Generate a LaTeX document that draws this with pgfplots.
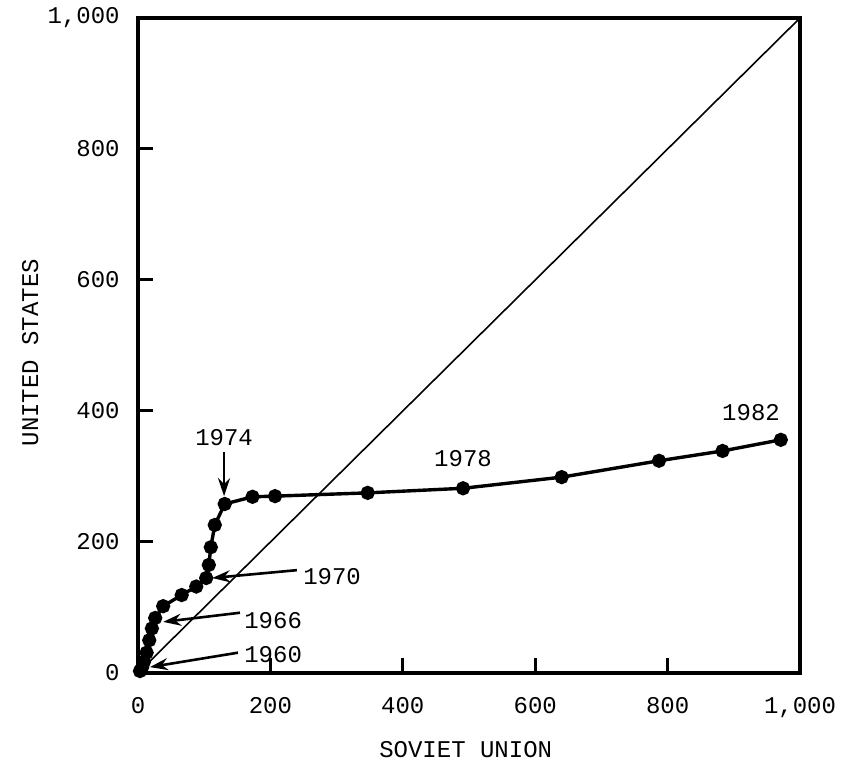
\documentclass[border=0pt]{standalone}
\usepackage{pgfplots}
\pgfplotsset{compat=1.18}
\usepackage{fontspec}
\setmainfont{Liberation Mono}
\usetikzlibrary{arrows.meta}

% US vs Soviet values, one point per year 1960-1982
\pgfplotstableread{
x y
3 3
6 8
9 17
13 31
17 50
21 68
26 84
38 102
66 119
88 132
103 145
107 165
110 192
116 226
131 258
173 269
207 270
347 275
491 282
640 299
787 324
883 339
971 356
}\curve

\begin{document}
\fontsize{12}{14}\selectfont
\begin{tikzpicture}
  \path[use as bounding box] (-69pt,-45pt) rectangle (353.5pt,336.5pt);
  \begin{axis}[
    at={(0,0)}, anchor=south west,
    width=331pt, height=327.5pt, scale only axis,
    xmin=0, xmax=1000, ymin=0, ymax=1000,
    xtick={0,200,400,600,800,1000},
    ytick={0,200,400,600,800,1000},
    xticklabels={0,200,400,600,800,{1,000}},
    yticklabels={0,200,400,600,800,{1,000}},
    tick align=inside, xtick pos=bottom, ytick pos=left,
    major tick length=7.5pt,
    every tick/.style={black, line width=1.5pt},
    axis line style={line width=2pt},
    yticklabel style={xshift=-5pt},
    xticklabel style={yshift=-8pt},
    xlabel={SOVIET UNION},
    ylabel={UNITED STATES},
    xlabel style={at={(axis description cs:0.495,0)}, anchor=center, yshift=-38.5pt},
    ylabel style={at={(axis description cs:-0.163,0.489)}, anchor=center},
    clip=false,
  ]
  \addplot[black, line width=0.8pt] coordinates {(0,0) (1000,1000)};
  \addplot[black, line width=1.7pt, mark=*, mark size=2.7pt] table {\curve};

  \draw[line width=1.3pt, -{Stealth[length=9pt,width=6pt]}] (axis cs:130,337) -- (axis cs:130,270);
  \node at (axis cs:130,359) {1974};
  \node at (axis cs:491,328) {1978};
  \node at (axis cs:926,398) {1982};
  \draw[line width=1.3pt, -{Stealth[length=9pt,width=6pt]}] (axis cs:240,157) -- (axis cs:112,145);
  \node[anchor=west, inner sep=1pt] at (axis cs:246,147) {1970};
  \draw[line width=1.3pt, -{Stealth[length=9pt,width=6pt]}] (axis cs:154,92) -- (axis cs:38,78);
  \node[anchor=west, inner sep=1pt] at (axis cs:157,80) {1966};
  \draw[line width=1.3pt, -{Stealth[length=9pt,width=6pt]}] (axis cs:151,31) -- (axis cs:18,9);
  \node[anchor=west, inner sep=1pt] at (axis cs:157,28) {1960};
  \end{axis}
\end{tikzpicture}
\end{document}
